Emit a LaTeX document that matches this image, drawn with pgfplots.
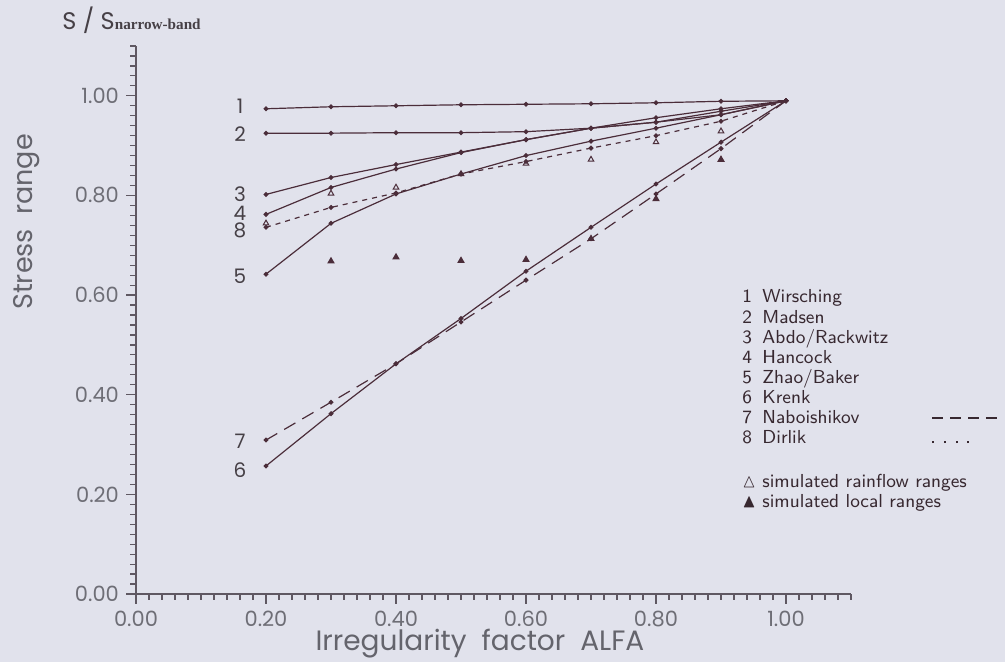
\documentclass[border=0pt]{standalone}
\usepackage{amssymb}
\usepackage{fontspec}
\usepackage{pgfplots}
\pgfplotsset{compat=1.18}
\newfontfamily\plotfont{Poppins}
\newfontfamily\bandfont{Liberation Serif}
\definecolor{bg}{RGB}{225,226,236}
\definecolor{linecol}{RGB}{75,45,58}
\definecolor{axiscol}{RGB}{95,88,98}
\definecolor{tickcol}{RGB}{110,110,118}
\definecolor{labelcol}{RGB}{100,100,108}
\definecolor{numcol}{RGB}{70,64,70}
\definecolor{legcol}{RGB}{55,40,48}

\newcommand\legrow[2]{\makebox[10pt][l]{#1}#2}
\newcommand\dashsample{\rule[2.3pt]{5.5pt}{0.6pt}\hspace{3.4pt}\rule[2.3pt]{5.5pt}{0.6pt}\hspace{3.4pt}\rule[2.3pt]{5.5pt}{0.6pt}\hspace{3.4pt}\rule[2.3pt]{5.5pt}{0.6pt}}
\newcommand\dotsample{\rule{1pt}{1pt}\hspace{4.8pt}\rule{1pt}{1pt}\hspace{4.8pt}\rule{1pt}{1pt}\hspace{4.8pt}\rule{1pt}{1pt}}

\begin{document}
\begin{tikzpicture}
\path[use as bounding box, fill=bg] (0,0) rectangle (502.5pt,331pt);
\begin{axis}[
  at={(68pt,34pt)}, anchor=south west,
  scale only axis, width=357.5pt, height=274pt,
  xmin=0, xmax=1.1, ymin=0, ymax=1.1,
  axis x line*=bottom, axis y line*=left,
  axis line style={-, color=axiscol, line width=0.6pt},
  tick align=outside,
  xtick={0,0.2,0.4,0.6,0.8,1.0}, ytick={0,0.2,0.4,0.6,0.8,1.0},
  minor xtick={0.02,0.04,...,1.1}, minor ytick={0.02,0.04,...,1.1},
  major tick length=5pt, minor tick length=3pt,
  every tick/.style={color=axiscol, line width=0.6pt},
  ticklabel style={font=\plotfont\fontsize{10.5}{12}\selectfont, text=tickcol},
  /pgf/number format/.cd, fixed, fixed zerofill, precision=2, assume math mode=true,
  /pgfplots/.cd,
  xlabel={Irregularity\ \ factor\ \ ALFA},
  ylabel={Stress\ \ range},
  every axis x label/.style={at={(axis description cs:0.481,0)}, anchor=base, yshift=-28.5pt,
    font=\plotfont\fontsize{14}{16}\selectfont, text=labelcol},
  every axis y label/.style={at={(axis description cs:-0.1524,0.679)}, anchor=center, rotate=90,
    font=\plotfont\fontsize{13.5}{16}\selectfont, text=labelcol},
  clip=false,
  every axis plot/.append style={color=linecol, line width=0.6pt, mark size=0.9pt},
]
% 1 Wirsching
\addplot[mark=*] coordinates {(0.2,0.974)(0.3,0.978)(0.4,0.980)(0.5,0.982)(0.6,0.983)(0.7,0.984)(0.8,0.986)(0.9,0.989)(1.0,0.99)};
% 2 Madsen
\addplot[mark=*] coordinates {(0.2,0.925)(0.3,0.925)(0.4,0.926)(0.5,0.926)(0.6,0.928)(0.7,0.935)(0.8,0.947)(0.9,0.969)(1.0,0.99)};
% 3 Abdo/Rackwitz
\addplot[mark=*] coordinates {(0.2,0.802)(0.3,0.836)(0.4,0.862)(0.5,0.887)(0.6,0.912)(0.7,0.935)(0.8,0.956)(0.9,0.974)(1.0,0.99)};
% 4 Hancock
\addplot[mark=*] coordinates {(0.2,0.762)(0.3,0.816)(0.4,0.853)(0.5,0.886)(0.6,0.912)(0.7,0.935)(0.8,0.947)(0.9,0.962)(1.0,0.99)};
% 5 Zhao/Baker
\addplot[mark=*] coordinates {(0.2,0.642)(0.3,0.744)(0.4,0.803)(0.5,0.843)(0.6,0.880)(0.7,0.909)(0.8,0.935)(0.9,0.962)(1.0,0.99)};
% 6 Krenk
\addplot[mark=*] coordinates {(0.2,0.257)(0.3,0.362)(0.4,0.462)(0.5,0.553)(0.6,0.648)(0.7,0.736)(0.8,0.823)(0.9,0.907)(1.0,0.99)};
% 7 Naboishikov
\addplot[mark=*, dash pattern=on 6.5pt off 4pt, mark options={solid}] coordinates {(0.2,0.309)(0.3,0.385)(0.4,0.462)(0.5,0.546)(0.6,0.630)(0.7,0.713)(0.8,0.803)(0.9,0.894)(1.0,0.99)};
% 8 Dirlik
\addplot[mark=*, dash pattern=on 2.5pt off 2.5pt, mark options={solid}] coordinates {(0.2,0.736)(0.3,0.776)(0.4,0.805)(0.5,0.843)(0.6,0.868)(0.7,0.895)(0.8,0.920)(0.9,0.949)(1.0,0.99)};
% simulated rainflow ranges
\addplot[only marks, mark=triangle, mark size=1.6pt, line width=0.5pt] coordinates {(0.2,0.744)(0.3,0.804)(0.4,0.816)(0.5,0.843)(0.6,0.864)(0.7,0.872)(0.8,0.907)(0.9,0.929)};
% simulated local ranges
\addplot[only marks, mark=triangle*, mark size=1.6pt] coordinates {(0.3,0.668)(0.4,0.676)(0.5,0.669)(0.6,0.671)(0.7,0.713)(0.8,0.793)(0.9,0.872)};

\begin{scope}[every node/.style={font=\plotfont\fontsize{10}{11}\selectfont, text=numcol, xshift=-13pt, inner sep=0}]
\node at (axis cs:0.2,0.979) {1};
\node at (axis cs:0.2,0.923) {2};
\node at (axis cs:0.2,0.802) {3};
\node at (axis cs:0.2,0.764) {4};
\node at (axis cs:0.2,0.730) {8};
\node at (axis cs:0.2,0.638) {5};
\node at (axis cs:0.2,0.306) {7};
\node at (axis cs:0.2,0.248) {6};
\end{scope}

\node[anchor=base west, inner sep=0, yshift=8pt, text=numcol] at (axis description cs:-0.1035,1)
  {{\plotfont\fontsize{12}{14}\selectfont S / S}{\bandfont\bfseries\fontsize{7.6}{9}\selectfont narrow-band}};

\node[anchor=base west, inner sep=0, text=legcol, font=\sffamily\fontsize{9.4}{10}\selectfont]
  at (axis description cs:0.8476,0.531) {%
  \begin{tabular}[t]{@{}l@{}}
  \legrow{1}{Wirsching}\\
  \legrow{2}{Madsen}\\
  \legrow{3}{Abdo/Rackwitz}\\
  \legrow{4}{Hancock}\\
  \legrow{5}{Zhao/Baker}\\
  \legrow{6}{Krenk}\\
  \legrow{7}{\makebox[85pt][l]{Naboishikov}}\dashsample\\
  \legrow{8}{\makebox[85pt][l]{Dirlik}}\dotsample\\[12pt]
  \legrow{$\vartriangle$}{simulated rainflow ranges}\\
  \legrow{$\blacktriangle$}{simulated local ranges}
  \end{tabular}};
\end{axis}
\end{tikzpicture}
\end{document}
